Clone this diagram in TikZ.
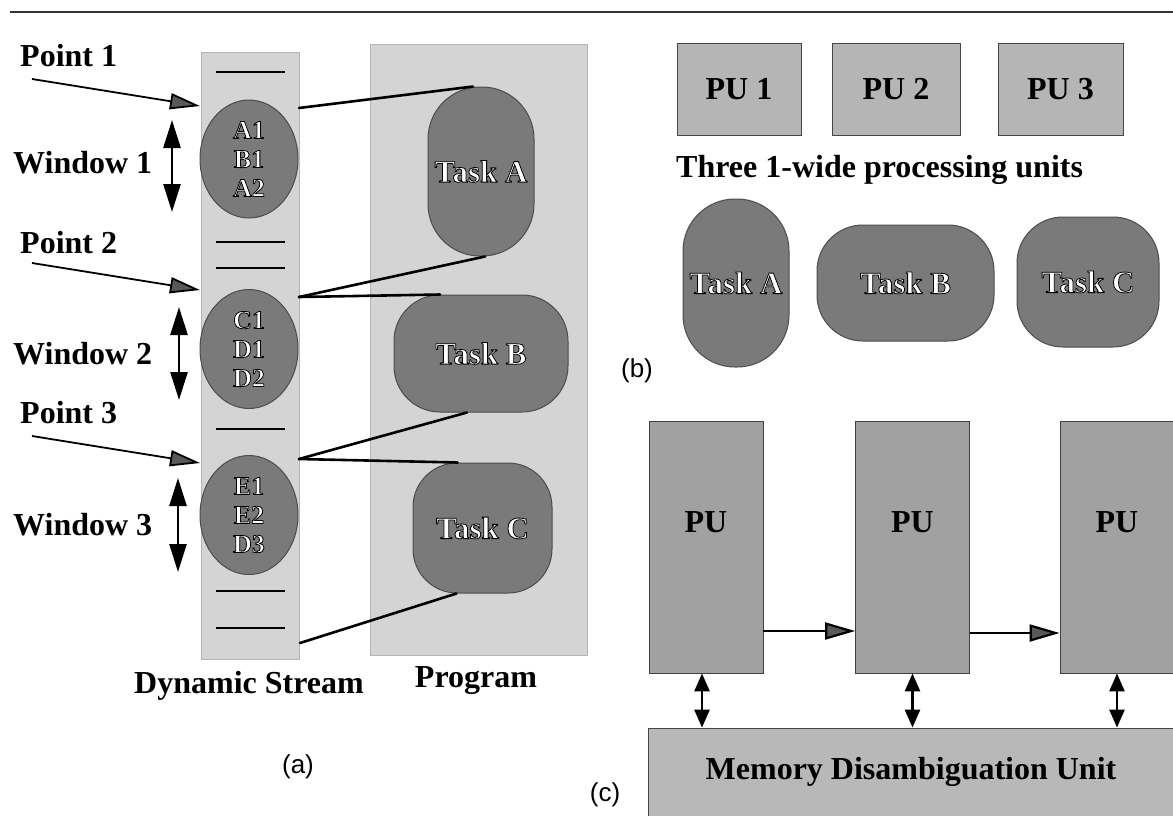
\documentclass[tikz,border=0pt]{standalone}
\usepackage{fontspec}
\setmainfont{Liberation Serif}
\newfontfamily\lsans{Liberation Sans}
\usetikzlibrary{arrows.meta,shapes.geometric}
\definecolor{bglight}{gray}{0.83}
\definecolor{blobc}{gray}{0.48}
\definecolor{blobd}{gray}{0.30}
\definecolor{puc}{gray}{0.71}
\definecolor{colc}{gray}{0.63}
\definecolor{mduc}{gray}{0.72}
\definecolor{headc}{gray}{0.35}
\newcommand\wtxt[1]{{\color{white}\special{pdf:literal direct 2 Tr 0.8 w 0 G}#1\special{pdf:literal direct 0 Tr}}}
\begin{document}
\begin{tikzpicture}[x=1pt,y=-1pt,
  lbl/.style={font=\fontsize{32}{34}\selectfont\bfseries, inner sep=0pt},
  tag/.style={font=\lsans\fontsize{26}{28}\selectfont, inner sep=0pt},
  bgbox/.style={rectangle, fill=bglight, draw=bglight!85!black, line width=0.6pt, inner sep=0pt},
  blob/.style={ellipse, fill=blobc, draw=blobd, line width=1pt, inner sep=0pt,
               align=center, font=\fontsize{26}{29}\selectfont\bfseries},
  task/.style={rectangle, fill=blobc, draw=blobd, line width=1pt, inner sep=0pt,
               font=\fontsize{31}{33}\selectfont\bfseries},
  pubox/.style={rectangle, fill=puc, draw=gray!55!black, line width=0.8pt, inner sep=0pt,
               font=\fontsize{32}{34}\selectfont\bfseries, minimum height=92pt},
  pucol/.style={rectangle, fill=colc, draw=gray!50!black, line width=0.8pt, inner sep=0pt,
               minimum width=114pt, minimum height=252pt},
  conn/.style={line width=2.6pt, line cap=round},
  bar/.style={line width=2.8pt},
  ptarrow/.style={line width=1.8pt, -{Triangle[length=30pt,width=16pt,fill=headc]}},
  winarrow/.style={line width=2.6pt, {Triangle[length=28pt,width=17pt]}-{Triangle[length=28pt,width=17pt]}},
  flow/.style={line width=2.2pt, -{Triangle[length=30pt,width=17pt,fill=headc]}},
  dbl/.style={line width=2.6pt, {Triangle[length=18pt,width=15pt]}-{Triangle[length=18pt,width=15pt]}}
]
\useasboundingbox (0,0) rectangle (1173,815);

% top rule
\draw[line width=2pt, black!80] (10,12) -- (1173,12);

% ---------------- (a) ----------------
\node[bgbox, minimum width=98pt, minimum height=607pt] (stream) at (250,355.5) {};
\node[bgbox, minimum width=217pt, minimum height=611pt] (prog) at (478.5,349.5) {};

% stream bars
\foreach \yy in {72,242,268,429,591,628}
  \draw[bar] (216,\yy) -- (285,\yy);

\node[blob, minimum width=98pt, minimum height=118pt] (e1) at (249,159) {\wtxt{A1}\\\wtxt{B1}\\\wtxt{A2}};
\node[blob, minimum width=98pt, minimum height=119pt] (e2) at (249,349) {\wtxt{C1}\\\wtxt{D1}\\\wtxt{D2}};
\node[blob, minimum width=98pt, minimum height=119pt] (e3) at (249,515) {\wtxt{E1}\\\wtxt{E2}\\\wtxt{D3}};

\node[task, minimum width=106pt, minimum height=169pt, rounded corners=52pt] (ta) at (481,171.5) {\wtxt{Task A}};
\node[task, minimum width=174pt, minimum height=117pt, rounded corners=46pt] (tb) at (481,353.5) {\wtxt{Task B}};
\node[task, minimum width=139pt, minimum height=130pt, rounded corners=44pt] (tc) at (482.5,528) {\wtxt{Task C}};

% point labels and arrows
\node[lbl, anchor=base west] (pt1) at (20,66) {Point 1};
\node[lbl, anchor=base west] (pt2) at (20,253) {Point 2};
\node[lbl, anchor=base west] (pt3) at (20,423) {Point 3};
\node[lbl, anchor=base west] (wn1) at (13,173) {Window 1};
\node[lbl, anchor=base west] (wn2) at (13,364) {Window 2};
\node[lbl, anchor=base west] (wn3) at (13,535) {Window 3};

\coordinate (a1s) at (32,79);  \coordinate (a1e) at (200,106);
\coordinate (a2s) at (32,263); \coordinate (a2e) at (200,290);
\coordinate (a3s) at (32,436); \coordinate (a3e) at (200,463);
\draw[ptarrow] (a1s) -- (a1e);
\draw[ptarrow] (a2s) -- (a2e);
\draw[ptarrow] (a3s) -- (a3e);

\coordinate (w1a) at (172,120); \coordinate (w1b) at (172,212);
\coordinate (w2a) at (179,307); \coordinate (w2b) at (179,400);
\coordinate (w3a) at (178,478); \coordinate (w3b) at (178,572);
\draw[winarrow] (w1a) -- (w1b);
\draw[winarrow] (w2a) -- (w2b);
\draw[winarrow] (w3a) -- (w3b);

% connectors stream -> program
\coordinate (s1) at (299,108);
\coordinate (s2) at (299,297);
\coordinate (s3) at (299,459);
\coordinate (s4) at (300,643);
\draw[conn] (s1) -- ([xshift=-8pt]ta.north);
\draw[conn] (s2) -- ([xshift=4pt]ta.south);
\draw[conn] (s2) -- ([xshift=-41pt]tb.north);
\draw[conn] (s3) -- ([xshift=-14pt]tb.south);
\draw[conn] (s3) -- ([xshift=-25pt]tc.north);
\draw[conn] (s4) -- ([xshift=-26pt]tc.south);

\node[lbl, anchor=base] (dslab) at (249,693) {Dynamic Stream};
\node[lbl, anchor=base] (prlab) at (476,687) {Program};
\node[tag] (taga) at (298,767) {(a)};

% ---------------- (b) ----------------
\node[pubox, minimum width=124pt] (pu1) at (739,89) {PU 1};
\node[pubox, minimum width=128pt] (pu2) at (896,89) {PU 2};
\node[pubox, minimum width=125pt] (pu3) at (1060.5,89) {PU 3};
\node[lbl, anchor=base west] (three) at (676,177) {Three 1-wide processing units};

\node[task, minimum width=106pt, minimum height=168pt, rounded corners=52pt] (tba) at (736,283) {\wtxt{Task A}};
\node[task, minimum width=177pt, minimum height=116pt, rounded corners=46pt] (tbb) at (905.5,283) {\wtxt{Task B}};
\node[task, minimum width=142pt, minimum height=130pt, rounded corners=46pt] (tbc) at (1088,282) {\wtxt{Task C}};
\node[tag] (tagb) at (637,371) {(b)};

% ---------------- (c) ----------------
\node[pucol, label={[lbl, yshift=25pt]center:PU}] (c1) at (706,547) {};
\node[pucol, label={[lbl, yshift=25pt]center:PU}] (c2) at (912.5,547) {};
\node[pucol, label={[lbl, yshift=25pt]center:PU}] (c3) at (1117,547) {};

\node[rectangle, fill=mduc, draw=gray!55!black, line width=0.8pt, inner sep=0pt,
      minimum width=526pt, minimum height=88pt, font=\fontsize{32}{34}\selectfont\bfseries]
      (mdu) at (911,772) {Memory Disambiguation Unit};

\draw[flow] ([yshift=-84pt]c1.east) -- ([yshift=-84pt]c2.west);
\draw[flow] ([yshift=-86pt]c2.east) -- ([yshift=-86pt]c3.west);

\draw[dbl] ([xshift=-4pt]c1.south) -- ([xshift=-4pt]c1.south |- mdu.north);
\draw[dbl] (c2.south) -- (c2.south |- mdu.north);
\draw[dbl] (c3.south) -- (c3.south |- mdu.north);

\node[tag] (tagc) at (605,795) {(c)};
\end{tikzpicture}
\end{document}
